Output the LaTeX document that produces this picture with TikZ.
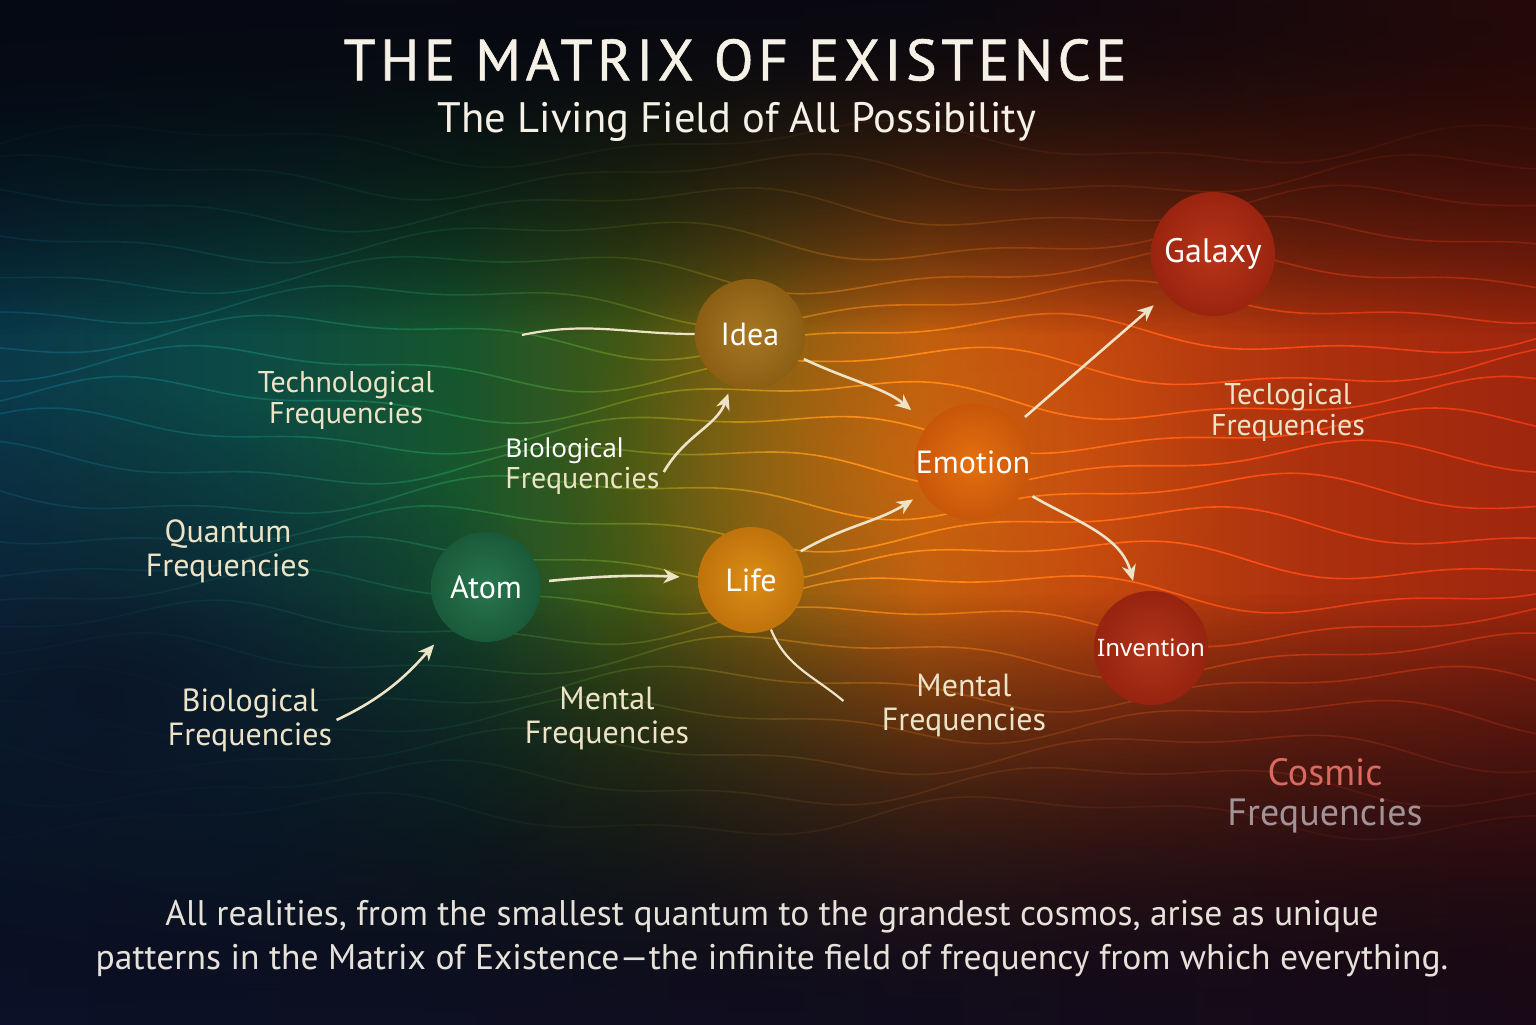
\documentclass[tikz,border=0pt]{standalone}
\usepackage{fontspec}
\setmainfont{PT Sans}
\newfontfamily\plainfont{Noto Sans}
\usepackage{tikz}
\usetikzlibrary{arrows.meta,fadings}

\definecolor{cream}{HTML}{EDE4C8}
\definecolor{titlecol}{HTML}{F6F1E6}
\definecolor{bodytext}{HTML}{E6E2DA}
\definecolor{darknavy}{HTML}{0B1428}
\definecolor{wavegray}{HTML}{4E4E4E}
\definecolor{glow}{HTML}{E07A10}
\definecolor{cosmicred}{HTML}{D96A60}
\definecolor{cosmicgray}{HTML}{A39398}

% shadings are fitted on their middle 50bp, so stops run from 25bp to 75bp
\pgfdeclarehorizontalshading{fieldshade}{100bp}{color(0bp)=(rgb,255:red,10;green,56;blue,74);
  color(25bp)=(rgb,255:red,10;green,56;blue,74); color(33bp)=(rgb,255:red,12;green,74;blue,70);
  color(40bp)=(rgb,255:red,22;green,86;blue,46); color(45.5bp)=(rgb,255:red,66;green,88;blue,20);
  color(50bp)=(rgb,255:red,128;green,94;blue,18); color(55bp)=(rgb,255:red,190;green,92;blue,14);
  color(60bp)=(rgb,255:red,196;green,72;blue,14); color(67.5bp)=(rgb,255:red,172;green,48;blue,14);
  color(75bp)=(rgb,255:red,158;green,38;blue,14); color(100bp)=(rgb,255:red,158;green,38;blue,14)}
\pgfdeclarehorizontalshading{topshade}{100bp}{color(0bp)=(rgb,255:red,6;green,10;blue,22);
  color(25bp)=(rgb,255:red,6;green,10;blue,22); color(55bp)=(rgb,255:red,10;green,9;blue,18);
  color(75bp)=(rgb,255:red,40;green,10;blue,10); color(100bp)=(rgb,255:red,40;green,10;blue,10)}
\pgfdeclarehorizontalshading{botshade}{100bp}{color(0bp)=(rgb,255:red,12;green,18;blue,42);
  color(25bp)=(rgb,255:red,12;green,18;blue,42); color(50bp)=(rgb,255:red,16;green,14;blue,32);
  color(75bp)=(rgb,255:red,26;green,10;blue,24); color(100bp)=(rgb,255:red,26;green,10;blue,24)}

\tikzfading[name=fadedown, top color=transparent!0, middle color=transparent!30, bottom color=transparent!100]
\tikzfading[name=fadeup, top color=transparent!100, middle color=transparent!25, bottom color=transparent!0]
\tikzfading[name=fadespot, inner color=transparent!0, outer color=transparent!100]

\begin{document}
\begin{tikzpicture}[
    x=0.5pt, y=0.5pt,
    ball/.style={circle, minimum size=#1, inner sep=0pt, text=white, font=\fontsize{16}{19}\selectfont},
    freq/.style={align=center, text=cream, inner sep=2pt, font=\fontsize{15}{15.5}\selectfont},
    bigfreq/.style={freq, font=\fontsize{16}{17}\selectfont},
    flow/.style={draw=cream, line width=1.3pt, -{Stealth[length=8pt, width=7pt, inset=2.5pt]}},
    thread/.style={draw=cream, line width=1.1pt},
    wave/.style={draw=wavegray, line width=0.8pt}
]
  \useasboundingbox (0,0) rectangle (1536,1024);

  % the field
  \fill[shading=fieldshade] (-10,-10) rectangle (1546,1034);
  \fill[glow, opacity=0.3, path fading=fadespot] (900,560) ellipse (340 and 230);
  \begin{scope}[blend mode=color dodge]
    \foreach \i in {0,...,21}
      \draw[wave] plot[smooth, domain=0:1536, samples=80]
        (\x, {880 - 32*\i + 17*sin(0.52*\x + 47*\i) + 7*sin(1.3*\x + 83*\i)});
  \end{scope}
  \fill[shading=topshade, path fading=fadedown] (-10,690) rectangle (1546,1040);
  \fill[shading=botshade, path fading=fadeup] (-10,-16) rectangle (1546,430);
  \fill[darknavy, opacity=0.95, path fading=fadespot] (100,330) ellipse (500 and 300);

  % titles
  \node[text=titlecol, font=\fontsize{29}{30}\selectfont\addfontfeature{LetterSpace=8,FakeBold=1}] (title) at (735,964) {THE MATRIX OF EXISTENCE};
  \node[text=titlecol, font=\fontsize{21.3}{24}\selectfont] (subtitle) at (737,902) {The Living Field of All Possibility};

  % spheres
  \node[ball=55pt, inner color={rgb,255:red,166;green,120;blue,34}, outer color={rgb,255:red,140;green,94;blue,20}] (idea) at (750,690) {Idea};
  \node[ball=57pt, inner color={rgb,255:red,228;green,112;blue,15}, outer color={rgb,255:red,200;green,86;blue,10}] (emotion) at (973,562) {Emotion};
  \node[ball=62pt, font=\fontsize{17}{20}\selectfont, inner color={rgb,255:red,184;green,52;blue,24}, outer color={rgb,255:red,154;green,36;blue,16}] (galaxy) at (1213,770) {Galaxy};
  \node[ball=55pt, inner color={rgb,255:red,40;green,118;blue,78}, outer color={rgb,255:red,26;green,90;blue,58}] (atom) at (486,437) {Atom};
  \node[ball=53pt, inner color={rgb,255:red,219;green,142;blue,20}, outer color={rgb,255:red,192;green,114;blue,12}] (life) at (751,444) {Life};
  \node[ball=57pt, font=\plainfont\fontsize{12}{14}\selectfont, inner color={rgb,255:red,176;green,52;blue,24}, outer color={rgb,255:red,150;green,36;blue,16}] (invention) at (1151,376) {Invention};

  % frequency labels
  \node[freq] (techno) at (346,624) {Technological\\Frequencies};
  \node[freq, anchor=west, align=left] (biomid) at (501,558) {{\plainfont\fontsize{13}{15.5}\selectfont\color{white}Biological}\\Frequencies};
  \node[bigfreq] (quantum) at (228,473) {Quantum\\Frequencies};
  \node[bigfreq] (biolow) at (250,304) {Biological\\Frequencies};
  \node[bigfreq] (mentall) at (607,306) {Mental\\Frequencies};
  \node[bigfreq] (mentalr) at (964,319) {Mental\\Frequencies};
  \node[freq] (teclo) at (1288,612) {Teclogical\\Frequencies};
  \node[align=center, font=\fontsize{19}{20}\selectfont] (cosmic) at (1325,228) {\textcolor{cosmicred}{Cosmic}\\\textcolor{cosmicgray}{Frequencies}};

  \coordinate (techin) at (522,689);

  % connectors
  \draw[thread] (techin) to[out=12, in=180] (idea.west);
  \draw[flow, shorten >=4pt] ([yshift=-3pt]biomid.east) to[out=60, in=-110] (idea);
  \draw[flow, shorten <=2pt, shorten >=11pt] (idea) to[out=-25, in=140] (emotion);
  \draw[flow, shorten <=4pt, shorten >=9pt] (atom) to[bend left=4] (life);
  \draw[flow, shorten <=2pt, shorten >=6pt] (life) to[out=30, in=212] (emotion);
  \draw[flow, shorten <=5pt, shorten >=8pt] (emotion) -- (galaxy);
  \draw[flow, shorten <=5pt, shorten >=6pt] (emotion) to[out=-30, in=105] (invention);
  \draw[flow, shorten >=11pt] (biolow.east) to[out=25, in=228] (atom);
  \draw[thread] (life) to[out=-68, in=140] ([xshift=-17pt, yshift=2pt]mentalr.west);

  \node[text=bodytext, align=center, font=\fontsize{17.8}{22}\selectfont] (caption) at (772,85)
    {All realities, from the smallest quantum to the grandest cosmos, arise as unique\\
     patterns in the Matrix of Existence—the infinite field of frequency from which everything.};
\end{tikzpicture}
\end{document}
